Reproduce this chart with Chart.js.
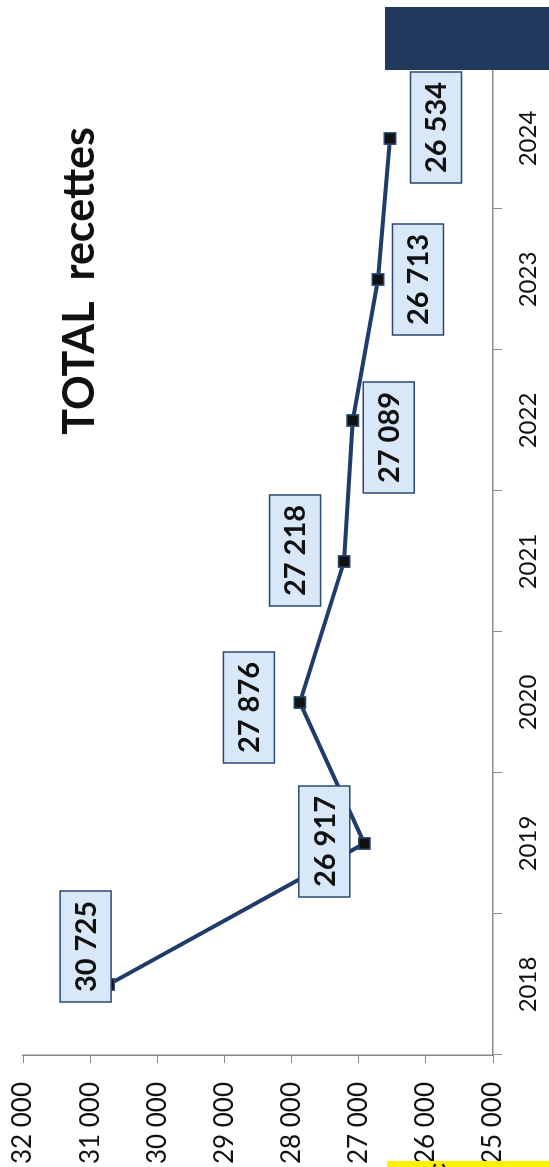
<!DOCTYPE html>
<html>
<head>
<meta charset="utf-8">
<script src="https://cdn.jsdelivr.net/npm/chart.js@4/dist/chart.umd.min.js"></script>
<style>
  html, body { margin: 0; padding: 0; background: #fff; }
  body { width: 549px; height: 1167px; overflow: hidden; position: relative; }
  #wrap {
    position: absolute; left: 0; top: 0; width: 1167px; height: 549px;
    transform-origin: 0 0; transform: translate(0, 1167px) rotate(-90deg);
  }
  #bar {
    position: absolute; left: 385px; top: 7px; width: 164px; height: 63px;
    background: #22395e;
  }
  #strip {
    position: absolute; left: 387px; top: 1161px; width: 162px; height: 6px;
    background: #fff000; overflow: hidden;
  }
  #strip span {
    position: absolute; left: 44px; top: -6px; font: bold 22px Lato, sans-serif;
    color: #111; transform: rotate(-90deg);
  }
</style>
</head>
<body>
<div id="wrap"><canvas id="c" width="1167" height="549"></canvas></div>
<div id="bar"></div>
<div id="strip"><span>c</span></div>
<script>
const years = ["2018", "2019", "2020", "2021", "2022", "2023", "2024"];
const recettes = [30725, 26917, 27876, 27218, 27089, 26713, 26534];
const titleText = "TOTAL  recettes";
// label box offsets from each point (manually placed in the original)
const labelDx = [38, 2, -5, 11, -17, 0, 11];
const labelDy = [-23, -40, -51, -49, 36, 40, 46];

function fmt(v) {
  return String(v).replace(/\B(?=(\d{3})+(?!\d))/g, " ");
}

const boxLabels = {
  id: "boxLabels",
  afterDatasetsDraw(chart) {
    const ctx = chart.ctx;
    const meta = chart.getDatasetMeta(0);
    ctx.save();
    ctx.font = "bold 29px Lato";
    ctx.textAlign = "center";
    ctx.textBaseline = "middle";
    meta.data.forEach((pt, i) => {
      const cx = pt.x + labelDx[i], cy = pt.y + labelDy[i];
      const w = 111, h = 51;
      ctx.fillStyle = "#d9e8f9";
      ctx.fillRect(cx - w / 2, cy - h / 2, w, h);
      ctx.strokeStyle = "#2b4874";
      ctx.lineWidth = 1.5;
      ctx.strokeRect(cx - w / 2, cy - h / 2, w, h);
      ctx.fillStyle = "#111";
      ctx.fillText(fmt(recettes[i]), cx, cy + 1);
    });
    // title
    ctx.font = "bold 43px Lato";
    ctx.textBaseline = "alphabetic";
    ctx.fillText(titleText, 886, 94);
    ctx.restore();
  },
};

new Chart(document.getElementById("c"), {
  type: "line",
  data: {
    labels: years,
    datasets: [{
      data: recettes,
      borderColor: "#1f3c6a",
      borderWidth: 4,
      pointStyle: "rect",
      pointRadius: 8,
      pointBackgroundColor: "#111",
      pointBorderColor: "#2b4874",
      pointBorderWidth: 1.5,
      tension: 0,
    }],
  },
  options: {
    responsive: false,
    devicePixelRatio: 1,
    animation: false,
    layout: { padding: { top: 23, right: 68, left: 0, bottom: 0 } },
    plugins: { legend: { display: false }, tooltip: { enabled: false } },
    scales: {
      x: {
        offset: true,
        grid: { offset: true, drawOnChartArea: false, tickLength: 9, color: "#8a8a8a" },
        border: { color: "#8a8a8a", width: 1.5 },
        ticks: { color: "#111", font: { family: "Lato", size: 24 }, padding: 12, maxRotation: 0 },
        afterFit: (s) => { s.height = 56; s.paddingLeft = 0; s.paddingRight = 0; },
      },
      y: {
        min: 25000,
        max: 32000,
        grid: { drawOnChartArea: false, tickLength: 8, color: "#8a8a8a" },
        border: { color: "#8a8a8a", width: 1.5 },
        ticks: {
          stepSize: 1000,
          color: "#111",
          font: { family: "Lato", size: 26 },
          padding: 19,
          callback: (v) => fmt(v),
        },
        afterFit: (s) => { s.width = 112; s.paddingTop = 0; s.paddingBottom = 0; },
      },
    },
  },
  plugins: [boxLabels],
});
</script>
</body>
</html>
